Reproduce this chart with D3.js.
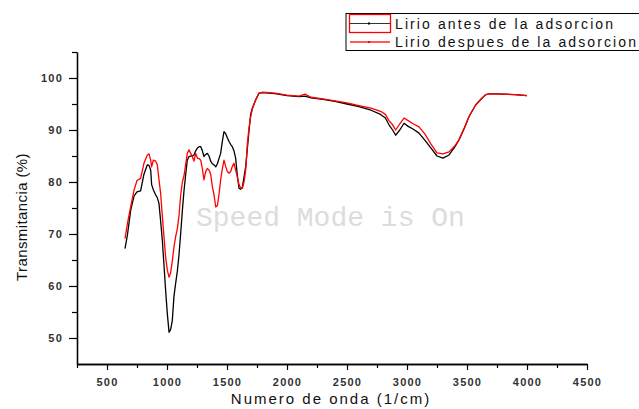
<!DOCTYPE html>
<html>
<head>
<meta charset="utf-8">
<script src="https://cdn.jsdelivr.net/npm/d3@7"></script>
<style>
  body { margin: 0; background: #fff; }
  svg { display: block; }
</style>
</head>
<body>
<svg id="chart" width="639" height="409"></svg>
<script>
// FTIR spectra
const wavenumber = [
  650, 670, 697, 725, 750, 780, 808, 836, 850, 864, 872, 886, 906, 919, 933, 947, 961, 975, 989,
  1003, 1017, 1030, 1044, 1058, 1072, 1086, 1100, 1114, 1128, 1142, 1156, 1169, 1183, 1197, 1211,
  1225, 1239, 1253, 1267, 1281, 1295, 1308, 1322, 1336, 1350, 1364, 1378, 1392, 1406, 1420, 1433,
  1447, 1461, 1475, 1489, 1503, 1517, 1531, 1544, 1558, 1572, 1586, 1600, 1614, 1628, 1642, 1656,
  1670, 1684, 1697, 1711, 1739, 1767, 1800, 1850, 1900, 1950, 2000, 2050, 2100, 2150, 2200, 2300,
  2400, 2500, 2600, 2700, 2780, 2820, 2850, 2880, 2906, 2940, 2975, 3010, 3050, 3100, 3150, 3200,
  3250, 3300, 3350, 3400, 3433, 3480, 3517, 3572, 3620, 3656, 3700, 3800, 3900, 4000
];
const antes = [
  67.2, 69.8, 74.5, 77.3, 78.1, 78.3, 81.5, 83.3, 83.2, 82.3, 79.5, 78.5, 77.5, 77.0, 75.9, 72.5, 68.8, 64.0, 59.0,
  54.6, 51.1, 51.6, 53.3, 58.0, 60.5, 62.8, 66.0, 70.1, 74.5, 78.4, 81.5, 84.2, 84.9, 85.0, 85.0,
  85.2, 86.0, 86.5, 86.8, 86.8, 86.0, 84.9, 85.3, 85.5, 85.0, 84.0, 83.5, 83.3, 82.9, 83.5, 84.5,
  85.5, 87.8, 89.7, 89.3, 88.5, 87.8, 87.2, 86.8, 86.0, 84.6, 81.3, 78.8, 78.6, 79.0, 81.0, 83.0,
  86.5, 90.0, 93.0, 94.2, 95.8, 97.1, 97.2, 97.1, 97.0, 96.8, 96.6, 96.5, 96.4, 96.5, 96.2, 95.9,
  95.5, 95.0, 94.5, 93.8, 93.0, 92.3, 91.0, 90.0, 89.0, 90.0, 91.3, 90.7, 90.2, 89.4, 88.0, 86.5,
  85.0, 84.6, 85.2, 86.8, 88.1, 90.5, 92.6, 94.8, 96.0, 96.8, 97.0, 96.9, 96.8, 96.6
];
const despues = [
  69.1, 72.0, 75.2, 78.4, 80.3, 80.7, 83.6, 85.2, 85.4, 84.2, 82.9, 84.2, 84.0, 83.3, 80.5, 77.8, 73.5, 69.4, 65.5,
  63.0, 61.7, 62.5, 64.8, 67.5, 69.5, 71.0, 73.5, 77.5, 80.0, 81.2, 83.5, 85.5, 86.2, 85.5, 84.9,
  84.0, 85.5, 84.6, 84.5, 84.2, 82.5, 80.4, 82.0, 82.6, 82.3, 81.5, 79.1, 77.5, 75.2, 75.5, 77.5,
  80.4, 82.5, 84.2, 83.0, 82.0, 81.7, 82.0, 83.0, 83.6, 82.3, 81.0, 79.5, 78.8, 78.8, 80.0, 82.3,
  87.5, 90.5, 92.5, 94.0, 95.8, 97.1, 97.3, 97.2, 97.1, 96.9, 96.7, 96.6, 96.5, 96.9, 96.3, 96.0,
  95.6, 95.2, 94.7, 94.2, 93.6, 93.0, 91.8, 91.0, 90.0, 91.2, 92.3, 91.8, 91.2, 90.6, 89.2, 87.3,
  85.6, 85.4, 85.8, 87.0, 88.1, 90.5, 92.6, 94.8, 96.0, 96.8, 97.0, 96.9, 96.8, 96.6
];

const xTicks = [500, 1000, 1500, 2000, 2500, 3000, 3500, 4000, 4500];
const xMinorTicks = [250, 750, 1250, 1750, 2250, 2750, 3250, 3750, 4250];
const yTicks = [50, 60, 70, 80, 90, 100];
const yMinorTicks = [55, 65, 75, 85, 95, 105];
const seriesNames = ["Lirio antes de la adsorcion", "Lirio despues de la adsorcion"];
const seriesColors = ["#000000", "#ff0000"];

const svg = d3.select("#chart");
const font = "Liberation Sans, Arial, sans-serif";

const x = d3.scaleLinear().domain([250, 4500]).range([77, 587]);
const y = d3.scaleLinear().domain([45, 105]).range([364, 52]);

// watermark
svg.append("text")
  .attr("x", 196)
  .attr("y", 226)
  .attr("font-family", "Liberation Mono, Courier New, monospace")
  .attr("font-size", 28)
  .attr("fill", "#dcdcdc")
  .text("Speed Mode is On");

// axes
function styleAxis(g) {
  g.select(".domain").attr("stroke", "#000").attr("stroke-width", 1.3);
  g.selectAll(".tick line").attr("stroke", "#000").attr("stroke-width", 1.2);
  g.selectAll(".tick text")
    .attr("font-family", font)
    .attr("font-size", 11)
    .attr("font-weight", "bold")
    .attr("letter-spacing", 1.2)
    .attr("fill", "#333");
}

svg.append("g")
  .attr("transform", "translate(0,364)")
  .call(d3.axisBottom(x).tickValues(xMinorTicks).tickSize(4).tickSizeOuter(0).tickFormat(""))
  .call(styleAxis);
svg.append("g")
  .attr("transform", "translate(0,364)")
  .call(d3.axisBottom(x).tickValues(xTicks).tickSize(6).tickSizeOuter(0).tickPadding(8).tickFormat(d3.format("d")))
  .call(styleAxis);

svg.append("g")
  .attr("transform", "translate(77,0)")
  .call(d3.axisLeft(y).tickValues(yMinorTicks).tickSize(5).tickSizeOuter(0).tickFormat(""))
  .call(styleAxis);
svg.append("g")
  .attr("transform", "translate(77,0)")
  .call(d3.axisLeft(y).tickValues(yTicks).tickSize(8).tickSizeOuter(0).tickPadding(6).tickFormat(d3.format("d")))
  .call(styleAxis);

// axis titles
svg.append("text")
  .attr("x", 331)
  .attr("y", 404)
  .attr("text-anchor", "middle")
  .attr("font-family", font)
  .attr("font-size", 15)
  .attr("letter-spacing", 2)
  .attr("fill", "#111")
  .text("Numero de onda (1/cm)");

svg.append("text")
  .attr("transform", "translate(21,217) rotate(-90)")
  .attr("text-anchor", "middle")
  .attr("dominant-baseline", "central")
  .attr("font-family", font)
  .attr("font-size", 15)
  .attr("letter-spacing", 0.4)
  .attr("fill", "#111")
  .text("Transmitancia (%)");

// curves
const line = d3.line()
  .x(d => x(d[0]))
  .y(d => y(d[1]));

[antes, despues].forEach((vals, i) => {
  svg.append("path")
    .datum(wavenumber.map((w, j) => [w, vals[j]]))
    .attr("fill", "none")
    .attr("stroke", seriesColors[i])
    .attr("stroke-width", 1.3)
    .attr("stroke-linejoin", "round")
    .attr("d", line);
});

// legend
const legend = svg.append("g");
legend.append("rect")
  .attr("x", 346).attr("y", 13.5)
  .attr("width", 300).attr("height", 37)
  .attr("fill", "#fff")
  .attr("stroke", "#000")
  .attr("stroke-width", 1);

legend.append("rect")
  .attr("x", 349.5).attr("y", 14.5)
  .attr("width", 41).attr("height", 18)
  .attr("fill", "none")
  .attr("stroke", "#ff0000")
  .attr("stroke-width", 1.3);

const legendRows = [23.5, 42];
seriesNames.forEach((name, i) => {
  const ly = legendRows[i];
  legend.append("line")
    .attr("x1", 350).attr("x2", 390)
    .attr("y1", ly).attr("y2", ly)
    .attr("stroke", i === 0 ? "#333" : "#ff5a5a")
    .attr("stroke-width", i === 0 ? 1.2 : 2);
  legend.append("rect")
    .attr("x", 368).attr("y", ly - 1)
    .attr("width", 2).attr("height", 2)
    .attr("fill", seriesColors[i]);
  legend.append("text")
    .attr("x", 395)
    .attr("y", ly + 5)
    .attr("font-family", font)
    .attr("font-size", 14)
    .attr("letter-spacing", 2.1)
    .attr("fill", "#111")
    .text(name);
});
</script>
</body>
</html>
